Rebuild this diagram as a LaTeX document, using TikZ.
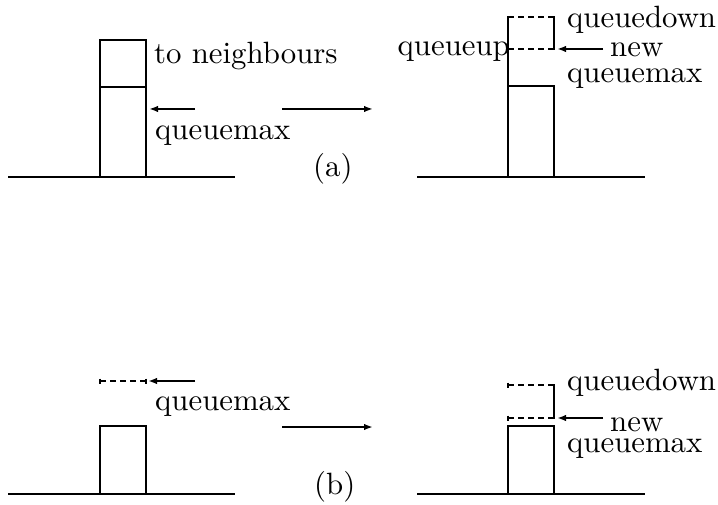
\documentclass[tikz,border=0pt]{standalone}
\usepackage{fontspec}
\setmainfont{lmroman10-regular.otf}
\usetikzlibrary{arrows.meta}
\tikzset{
  solidln/.style={line width=2.6pt, line cap=rect},
  baseln/.style={line width=2.6pt},
  dashln/.style={line width=1.8pt, dash pattern=on 6pt off 4pt},
  tickln/.style={line width=1.6pt},
  ptr/.style={line width=2pt, -{Latex[length=9pt,width=6.5pt]}},
  lbl/.style={inner sep=0pt, anchor=base west, font=\fontsize{30.8}{36}\selectfont},
}
\begin{document}
\begin{tikzpicture}[x=1pt,y=-1pt]
\useasboundingbox (0,0) rectangle (718,505);

% ---------- panel (a), left ----------
\coordinate (aLa) at (8,177);
\coordinate (aLb) at (235,177);
\draw[baseln] (aLa) -- (aLb);
\draw[solidln] (100,87) rectangle (146,177);
\draw[solidln] (100,40) rectangle (146,87);
\node[lbl] (aNeigh) at (154,64) {to neighbours};
\coordinate (aArrS) at (195,109);
\coordinate (aArrE) at (149,109);
\draw[ptr] (aArrS) -- (aArrE);
\node[lbl] (aQmax) at (155,140) {queuemax};

% middle arrow (a)
\coordinate (aMidS) at (282,109);
\coordinate (aMidE) at (373,109);
\draw[ptr] (aMidS) -- (aMidE);
\node[lbl] (aTag) at (313,177) {(a)};

% ---------- panel (a), right ----------
\coordinate (aRa) at (417,177);
\coordinate (aRb) at (645,177);
\draw[baseln] (aRa) -- (aRb);
\draw[solidln] (508,86) rectangle (554,177);
\draw[solidln] (508,17) -- (508,86);
\draw[solidln] (554,17) -- (554,49);
\draw[dashln] (508,17) -- (554,17);
\draw[dashln] (508,49) -- (554,49);
\coordinate (aRArrS) at (603,49);
\coordinate (aRArrE) at (557,49);
\draw[ptr] (aRArrS) -- (aRArrE);
\node[lbl] (aQdown) at (567,28) {queuedown};
\node[lbl] (aNew) at (610,57) {new};
\node[lbl] (aQmaxR) at (567,83) {queuemax};
\node[lbl, anchor=base east] (aQup) at (510,56) {queueup};

% ---------- panel (b), left ----------
\coordinate (bLa) at (8,494);
\coordinate (bLb) at (235,494);
\draw[baseln] (bLa) -- (bLb);
\draw[solidln] (100,494) -- (100,426) -- (146,426) -- (146,494);
\draw[dashln] (100,381) -- (146,381);
\draw[tickln] (100,378.5) -- (100,383.5);
\draw[tickln] (146,378.5) -- (146,383.5);
\coordinate (bArrS) at (195,381);
\coordinate (bArrE) at (148,381);
\draw[ptr] (bArrS) -- (bArrE);
\node[lbl] (bQmax) at (155,410) {queuemax};

% middle arrow (b)
\coordinate (bMidS) at (282,427);
\coordinate (bMidE) at (373,427);
\draw[ptr] (bMidS) -- (bMidE);
\node[lbl] (bTag) at (314,494) {(b)};

% ---------- panel (b), right ----------
\coordinate (bRa) at (417,494);
\coordinate (bRb) at (645,494);
\draw[baseln] (bRa) -- (bRb);
\draw[solidln] (508,494) -- (508,426) -- (554,426) -- (554,494);
\draw[solidln] (554,385) -- (554,418);
\draw[dashln] (508,385) -- (554,385);
\draw[dashln] (508,418) -- (554,418);
\draw[tickln] (508,382.5) -- (508,387.5);
\draw[tickln] (508,415.5) -- (508,420.5);
\coordinate (bRArrS) at (603,418);
\coordinate (bRArrE) at (557,418);
\draw[ptr] (bRArrS) -- (bRArrE);
\node[lbl] (bQdown) at (567,390) {queuedown};
\node[lbl] (bNew) at (610,431) {new};
\node[lbl] (bQmaxR) at (567,452) {queuemax};
\end{tikzpicture}
\end{document}
